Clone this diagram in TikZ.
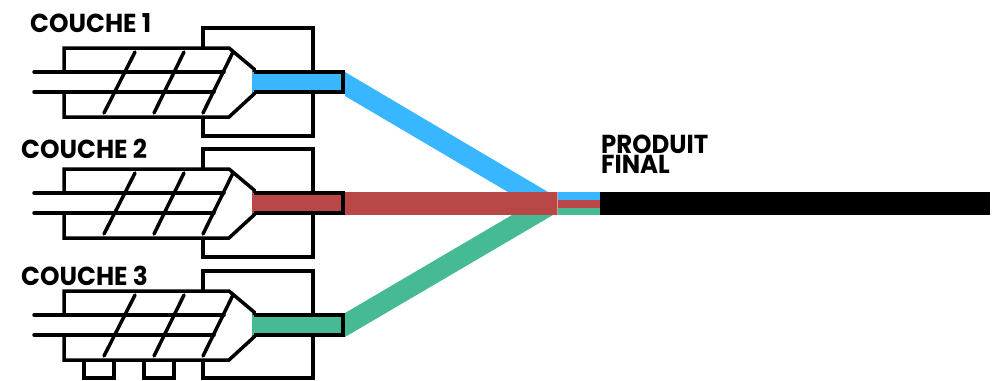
\documentclass[tikz,border=0pt]{standalone}
\usepackage{fontspec}
\setmainfont{Poppins}[BoldFont=Poppins Bold]
\definecolor{cblue}{HTML}{38B6FF}
\definecolor{cred}{HTML}{B94747}
\definecolor{cgreen}{HTML}{45BA95}
\tikzset{
  outline/.style={draw=black,line width=3.5pt,line join=miter},
  rod/.style={draw=black,line width=3.5pt,line cap=round},
  label/.style={font=\fontsize{26}{20}\selectfont\bfseries,inner sep=0pt,anchor=west,text=black,align=left},
}
\newcommand{\lbl}[2]{\scalebox{#1}[1]{#2}}
\newcommand{\screw}[1]{%
  \filldraw[outline,fill=white] (64,48) -- (229,48) -- (254,69) -- (254,94) -- (229,117) -- (64,117) -- cycle;
  \fill[white] (60,74) rectangle (68,90);
  \draw[rod] (34,72) -- (224,72);
  \draw[rod] (34,92) -- (214,92);
  \draw[rod] (135,52) -- (104,113);
  \draw[rod] (184,52) -- (154,113);
  \draw[rod] (233,52) -- (203,113);
  \fill[#1] (252,72) rectangle (343,92);
  \draw[outline] (254,72) -- (343,72) -- (343,92) -- (254,92);
}
\newcommand{\extruder}[2]{%
 \begin{scope}[yshift=-#1pt]
  \draw[outline] (203,50) -- (203,28) -- (313,28) -- (313,72);
  \draw[outline] (313,92) -- (313,136) -- (203,136) -- (203,117);
  \screw{#2}
 \end{scope}}
\begin{document}
\begin{tikzpicture}[x=1pt,y=-1pt]
\useasboundingbox (0,0) rectangle (998,380);
% feeds
\fill[cblue] (345,72) -- (548,192) -- (508,192) -- (345,96) -- cycle;
\fill[cgreen] (345,313) -- (512,215) -- (553,215) -- (345,337) -- cycle;
\fill[cred] (345,192) rectangle (557,215);
\fill[cblue] (557,192) rectangle (600,200);
\fill[cred] (557,200) rectangle (600,208);
\fill[cgreen] (557,208) rectangle (600,215);
\fill[cred!55] (556.5,192) rectangle (558,215);
\fill[black] (600,192) rectangle (990,215);
% extruders
\extruder{0}{cblue}
\extruder{121}{cred}
\begin{scope}[yshift=-243pt]
  \draw[outline] (203,50) -- (203,28) -- (313,28) -- (313,72);
  \draw[outline] (313,92) -- (313,135) -- (203,135) -- (203,117);
  \draw[outline] (84,117) -- (84,135) -- (114,135) -- (114,117);
  \draw[outline] (144,117) -- (144,135) -- (174,135) -- (174,117);
  \screw{cgreen}
\end{scope}
\node[label] (c1) at (30,23) {\lbl{.955}{COUCHE 1}};
\node[label] (c2) at (21,149) {\lbl{.955}{COUCHE 2}};
\node[label] (c3) at (21,276) {\lbl{.955}{COUCHE 3}};
\node[label] (p1) at (601,154) {\lbl{.94}{PRODUIT}\\\lbl{.94}{FINAL}};
\end{tikzpicture}
\end{document}
